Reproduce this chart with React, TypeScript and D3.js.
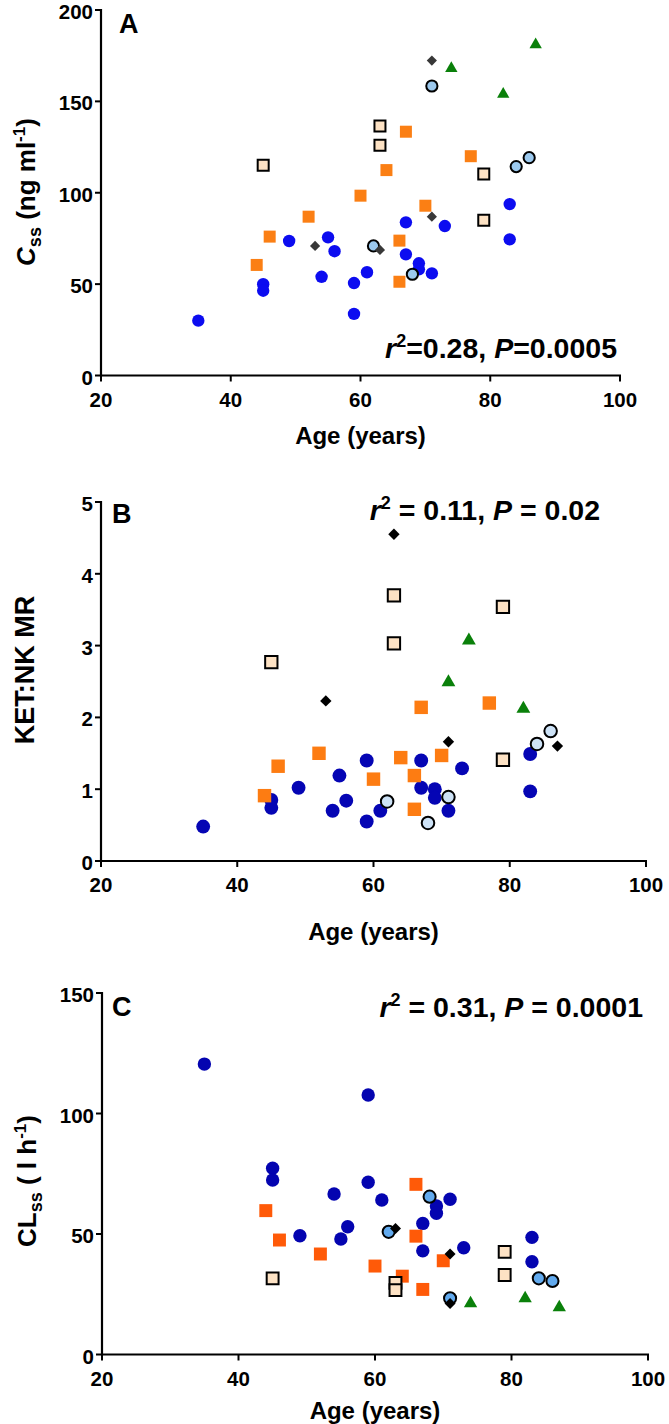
import React from 'react';
import * as d3 from 'd3';

type Pt = [number, number];

// ---- Panel A: Css (ng ml-1) vs age ----
const aBlue: Pt[] = [[35,30],[45,50],[45,46.4],[49,73.6],[54,54],[55,75.6],[56,68],[59,50.6],[59,33.7],[61,56.5],[67,83.8],[67,66.3],[69,61.4],[69,58.1],[71,55.9],[73,81.8],[83,93.8],[83,74.5]];
const aOrange: Pt[] = [[44,60.5],[46,76],[52,86.9],[60,98.4],[64,112.4],[66,73.8],[66,51.3],[67,133.4],[70,92.9],[77,120]];
const aBeige: Pt[] = [[45,115],[63,136.5],[63,126],[79,110.3],[79,85]];
const aLight: Pt[] = [[62,70.9],[68,55.4],[71,158.4],[84,114.3],[86,119.2]];
const aDiamond: Pt[] = [[53,70.9],[63,68.7],[71,172.3],[71,86.9]];
const aTriangle: Pt[] = [[74,168],[82,154],[87,181]];

// ---- Panel B: KET:NK MR vs age ----
const bBlue: Pt[] = [[35,0.48],[45,0.85],[45,0.74],[49,1.02],[54,0.70],[55,1.19],[56,0.84],[59,1.40],[59,0.55],[61,0.70],[67,1.40],[67,1.02],[69,1.0],[69,0.88],[71,0.70],[73,1.29],[83,1.49],[83,0.97]];
const bOrange: Pt[] = [[44,0.91],[46,1.32],[52,1.50],[60,1.14],[64,1.44],[66,1.19],[66,0.72],[67,2.14],[70,1.47],[77,2.2]];
const bBeige: Pt[] = [[45,2.77],[63,3.70],[63,3.03],[79,3.54],[79,1.41]];
const bLight: Pt[] = [[62,0.83],[68,0.53],[71,0.89],[84,1.63],[86,1.81]];
const bDiamond: Pt[] = [[53,2.23],[63,4.55],[71,1.66],[87,1.6]];
const bTriangle: Pt[] = [[71,2.49],[74,3.07],[82,2.12]];

// ---- Panel C: CLss (l h-1) vs age ----
const cBlue: Pt[] = [[35,120.5],[45,77.3],[45,72.4],[49,49.3],[54,66.6],[55,47.9],[56,53],[59,107.7],[59,71.5],[61,64.1],[67,54.4],[67,43],[69,61.6],[69,58.6],[71,64.4],[73,44.3],[83,48.6],[83,38.5]];
const cOrange: Pt[] = [[44,59.7],[46,47.5],[52,41.7],[60,36.7],[64,32.5],[66,70.6],[66,49.1],[67,27],[70,38.9]];
const cBeige: Pt[] = [[45,31.6],[63,29.7],[63,26.7],[79,42.6],[79,33]];
const cLight: Pt[] = [[62,50.9],[68,65.5],[71,23.3],[84,31.6],[86,30.5]];
const cDiamond: Pt[] = [[63,52.3],[71,41.7],[71,21.2]];
const cTriangle: Pt[] = [[74,21.2],[82,23.3],[87,19.5]];

const xTicks = [20, 40, 60, 80, 100];
const aYTicks = [0, 50, 100, 150, 200];
const bYTicks = [0, 1, 2, 3, 4, 5];
const cYTicks = [0, 50, 100, 150];

const FONT = '"Liberation Sans", Arial, Helvetica, sans-serif';

interface PanelCfg {
  letter: string;
  letterPos: [number, number];
  xRange: [number, number];
  yDomain: [number, number];
  yRange: [number, number];
  yTicks: number[];
  scale: number;
  colors: { blue: string; orange: string; light: string; diamond: string };
  data: { blue: Pt[]; orange: Pt[]; beige: Pt[]; light: Pt[]; diamond: Pt[]; triangle: Pt[] };
  yLabel: React.ReactNode;
  yLabelPos: [number, number];
  yLabelSize: number;
  stats: React.ReactNode;
  statsPos: [number, number];
  xLabelY: number;
}

const sq = (s: number) => d3.symbol().type(d3.symbolSquare).size(s * s)() as string;
const tri = (s: number) => d3.symbol().type(d3.symbolTriangle).size(s)() as string;

function Panel({ cfg }: { cfg: PanelCfg }) {
  const x = d3.scaleLinear().domain([20, 100]).range(cfg.xRange);
  const y = d3.scaleLinear().domain(cfg.yDomain).range(cfg.yRange);
  const k = cfg.scale;
  const y0 = y(cfg.yDomain[0]);
  const x0 = x(20);
  const tickLen = 6;
  return (
    <g fontFamily={FONT} fontWeight="bold">
      {/* markers */}
      {cfg.data.blue.map((d, i) => (
        <circle key={'b' + i} cx={x(d[0])} cy={y(d[1])} r={6.2 * k} fill={cfg.colors.blue} />
      ))}
      {cfg.data.orange.map((d, i) => (
        <path key={'o' + i} d={sq(12 * k)} transform={`translate(${x(d[0])},${y(d[1])})`} fill={cfg.colors.orange} />
      ))}
      {cfg.data.beige.map((d, i) => (
        <path key={'s' + i} d={sq(11 * k)} transform={`translate(${x(d[0])},${y(d[1])})`} fill="#fde2c4" stroke="#000" strokeWidth={2} />
      ))}
      {cfg.data.light.map((d, i) => (
        <circle key={'l' + i} cx={x(d[0])} cy={y(d[1])} r={5.6 * k} fill={cfg.colors.light} stroke="#000" strokeWidth={2} />
      ))}
      {cfg.data.diamond.map((d, i) => (
        <path key={'d' + i} d={sq(7.2 * k)} transform={`translate(${x(d[0])},${y(d[1])}) rotate(45)`} fill={cfg.colors.diamond} />
      ))}
      {cfg.data.triangle.map((d, i) => (
        <path key={'t' + i} d={tri(66 * k * k)} transform={`translate(${x(d[0])},${y(d[1])})`} fill="#0a800a" />
      ))}

      {/* axes */}
      <line x1={x0} x2={x0} y1={y(cfg.yDomain[1]) - 1} y2={y0 + 1} stroke="#000" strokeWidth={2.2} />
      <line x1={x0 - 1} x2={x(100) + 1} y1={y0} y2={y0} stroke="#000" strokeWidth={2.2} />
      {cfg.yTicks.map((t) => (
        <g key={'yt' + t}>
          <line x1={x0 - tickLen} x2={x0} y1={y(t)} y2={y(t)} stroke="#000" strokeWidth={2} />
          <text x={x0 - 8} y={y(t)} dy="0.44em" textAnchor="end" fontSize={20.5}>{t}</text>
        </g>
      ))}
      {xTicks.map((t) => (
        <g key={'xt' + t}>
          <line x1={x(t)} x2={x(t)} y1={y0} y2={y0 + tickLen} stroke="#000" strokeWidth={2} />
          <text x={x(t)} y={y0 + 31} textAnchor="middle" fontSize={20.5}>{t}</text>
        </g>
      ))}

      {/* labels */}
      <text x={cfg.letterPos[0]} y={cfg.letterPos[1]} fontSize={27}>{cfg.letter}</text>
      <text x={(cfg.xRange[0] + cfg.xRange[1]) / 2} y={cfg.xLabelY} textAnchor="middle" fontSize={24}>Age (years)</text>
      <text transform={`translate(${cfg.yLabelPos[0]},${cfg.yLabelPos[1]}) rotate(-90)`} textAnchor="middle" fontSize={cfg.yLabelSize}>
        {cfg.yLabel}
      </text>
      <text x={cfg.statsPos[0]} y={cfg.statsPos[1]} textAnchor="end" fontSize={28.5}>
        {cfg.stats}
      </text>
    </g>
  );
}

const panels: PanelCfg[] = [
  {
    letter: 'A',
    letterPos: [119, 33],
    xRange: [101, 620],
    yDomain: [0, 200],
    yRange: [375.5, 10],
    yTicks: aYTicks,
    scale: 1.0,
    colors: { blue: '#0c0cf0', orange: '#fb7f14', light: '#9cc9ee', diamond: '#383838' },
    data: { blue: aBlue, orange: aOrange, beige: aBeige, light: aLight, diamond: aDiamond, triangle: aTriangle },
    yLabel: (
      <>
        <tspan fontStyle="italic">C</tspan>
        <tspan fontSize={18} dy={6}>ss</tspan>
        <tspan dy={-6}> (ng ml</tspan>
        <tspan fontSize={17} dy={-10}>-1</tspan>
        <tspan dy={10}>)</tspan>
      </>
    ),
    yLabelPos: [35, 192],
    yLabelSize: 26,
    stats: (
      <>
        <tspan fontStyle="italic">r</tspan>
        <tspan fontSize={18} dy={-11}>2</tspan>
        <tspan dy={11}>=0.28, </tspan>
        <tspan fontStyle="italic">P</tspan>
        <tspan>=0.0005</tspan>
      </>
    ),
    statsPos: [617, 358],
    xLabelY: 444,
  },
  {
    letter: 'B',
    letterPos: [112, 523],
    xRange: [101, 646],
    yDomain: [0, 5],
    yRange: [861, 502],
    yTicks: bYTicks,
    scale: 1.12,
    colors: { blue: '#0505b4', orange: '#fd7c12', light: '#cde2f6', diamond: '#000000' },
    data: { blue: bBlue, orange: bOrange, beige: bBeige, light: bLight, diamond: bDiamond, triangle: bTriangle },
    yLabel: <tspan>KET:NK MR</tspan>,
    yLabelPos: [34, 670],
    yLabelSize: 27,
    stats: (
      <>
        <tspan fontStyle="italic">r</tspan>
        <tspan fontSize={18} dy={-11}>2</tspan>
        <tspan dy={11}> = 0.11, </tspan>
        <tspan fontStyle="italic">P</tspan>
        <tspan> = 0.02</tspan>
      </>
    ),
    statsPos: [600, 520],
    xLabelY: 940,
  },
  {
    letter: 'C',
    letterPos: [112, 1016],
    xRange: [102, 648],
    yDomain: [0, 150],
    yRange: [1354.5, 993],
    yTicks: cYTicks,
    scale: 1.08,
    colors: { blue: '#0404b0', orange: '#ff5a08', light: '#62aaee', diamond: '#000000' },
    data: { blue: cBlue, orange: cOrange, beige: cBeige, light: cLight, diamond: cDiamond, triangle: cTriangle },
    yLabel: (
      <>
        <tspan>CL</tspan>
        <tspan fontSize={18} dy={6}>ss</tspan>
        <tspan dy={-6}> ( l h</tspan>
        <tspan fontSize={17} dy={-10}>-1</tspan>
        <tspan dy={10}>)</tspan>
      </>
    ),
    yLabelPos: [36, 1181],
    yLabelSize: 26,
    stats: (
      <>
        <tspan fontStyle="italic">r</tspan>
        <tspan fontSize={18} dy={-11}>2</tspan>
        <tspan dy={11}> = 0.31, </tspan>
        <tspan fontStyle="italic">P</tspan>
        <tspan> = 0.0001</tspan>
      </>
    ),
    statsPos: [643, 1017],
    xLabelY: 1419,
  },
];

export default function App() {
  return (
    <svg
      width={669}
      height={1424}
      viewBox="0 0 669 1424"
      style={{ position: 'absolute', left: 0, top: 0, background: '#fff' }}
    >
      <rect x={0} y={0} width={669} height={1424} fill="#fff" />
      {panels.map((p) => (
        <Panel key={p.letter} cfg={p} />
      ))}
    </svg>
  );
}
